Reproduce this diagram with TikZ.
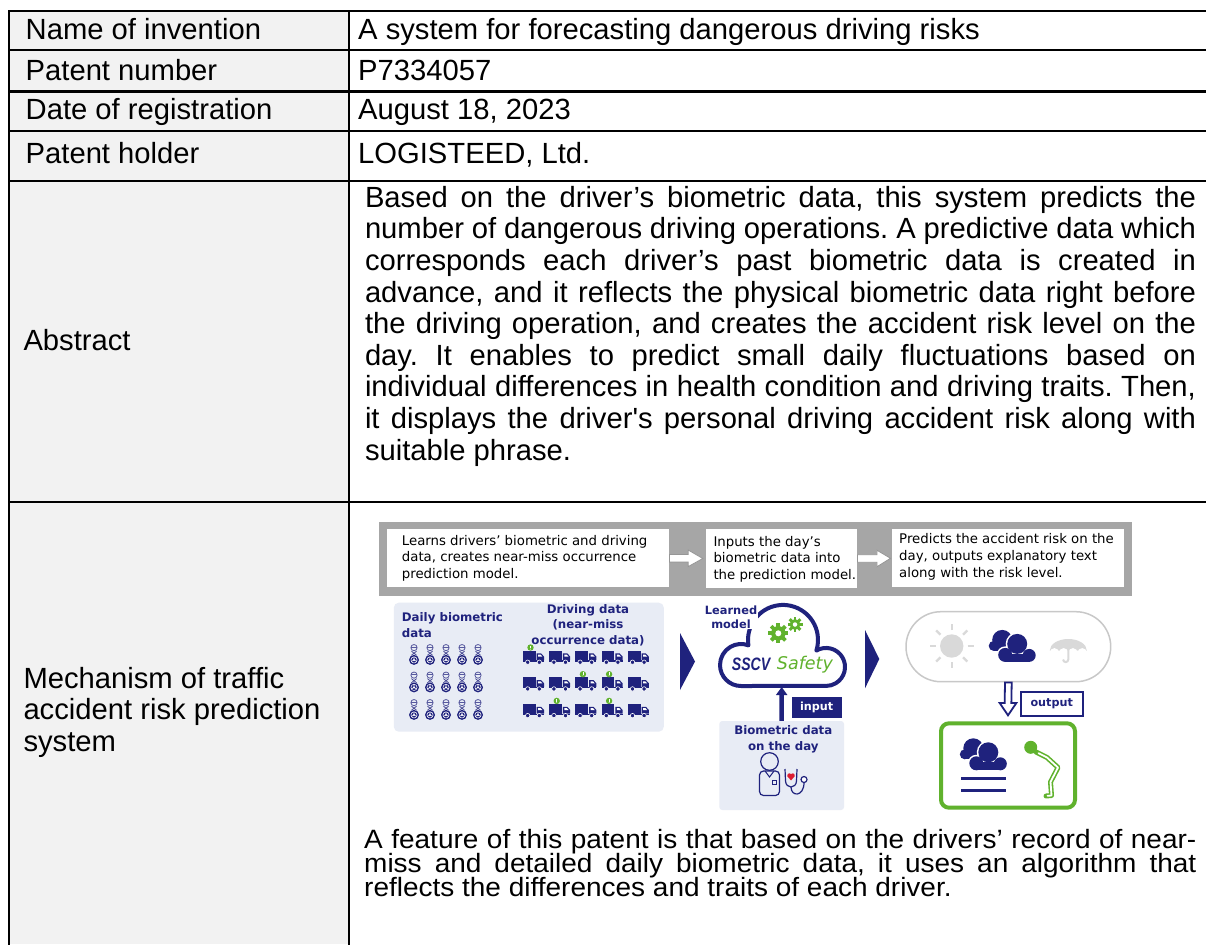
\documentclass[tikz,border=0pt]{standalone}
\usepackage{fontspec}
\setmainfont{Liberation Sans}
\newfontfamily\dvfont{DejaVu Sans}
\usetikzlibrary{calc,arrows.meta}
\definecolor{navy}{RGB}{31,34,125}
\definecolor{lgreen}{RGB}{96,178,45}
\definecolor{panelblue}{RGB}{232,236,245}
\definecolor{bannergray}{RGB}{166,166,166}
\definecolor{sungray}{RGB}{217,217,217}
\definecolor{rimgray}{RGB}{200,200,200}
\definecolor{colgray}{RGB}{242,242,242}
\definecolor{heartred}{RGB}{220,30,50}
\definecolor{arrowgray}{RGB}{150,150,150}
\tikzset{
  driverpic/.pic={
    \draw[navy!75, line width=0.8pt] (0,-6.9) circle (3.1);
    \draw[navy!75, line width=0.8pt] (-3.1,-7.6) -- (3.1,-7.6);
    \draw[navy!80, line width=0.8pt] (-2.6,-3.4) -- (2.6,0.8) (2.6,-3.4) -- (-2.6,0.8);
    \fill[navy] (0,5.4) circle (5);
    \draw[white, line width=0.55pt] (0,5.4) circle (3.1);
    \fill[white] (0,5.4) circle (1.1);
    \draw[white, line width=0.55pt] (0,5.4) -- (0,2.3) (0,5.4) -- (-2.7,7) (0,5.4) -- (2.7,7);
  },
  truckpic/.pic={
    \fill[navy] (-10.5,-6.5) rectangle (2.2,3.2);
    \fill[navy] (3.2,-3.6) -- (7.6,-3.6) -- (10.5,-0.4) -- (10.5,3.2) -- (3.2,3.2) -- cycle;
    \fill[white] (4.7,-2.3) -- (7.1,-2.3) -- (8.9,-0.3) -- (4.7,-0.3) -- cycle;
    \fill[navy] (-10.5,3.2) rectangle (10.5,4.6);
    \fill[navy] (-5.8,5.2) circle (2.2);
    \fill[navy] (5.8,5.2) circle (2.2);
    \draw[white, line width=0.6pt] (-5.8,5.2) circle (2.2) (5.8,5.2) circle (2.2);
  },
  badgepic/.pic={
    \fill[lgreen] (0,0) circle (3.2);
    \draw[white, line width=0.8pt] (0,-1.9) -- (0,0.6);
    \fill[white] (0,1.6) circle (0.45);
  },
  gearpic/.pic={
    \fill[lgreen] (0,0) circle ({0.72*#1});
    \foreach \a in {0,45,90,135} \fill[lgreen, rotate=\a] ({-0.19*#1},{-#1}) rectangle ({0.19*#1},{#1});
    \fill[white] (0,0) circle ({0.3*#1});
  },
  wcloudpic/.pic={
    \fill[navy] (-10,-6) circle (10);
    \fill[navy] (-18.5,0) circle (5);
    \fill[navy] (-18.5,-1) rectangle (-6,5);
    \draw[white, line width=3pt] (5,-2) circle (10) (-7,9) circle (7) (17,9.5) circle (6.5) (-7,8) rectangle (17,16);
    \fill[navy] (5,-2) circle (10);
    \fill[navy] (-7,9) circle (7);
    \fill[navy] (17,9.5) circle (6.5);
    \fill[navy] (-7,8) rectangle (17,16);
  },
  umbrellapic/.pic={
    \fill[sungray] (-18.5,0) arc[start angle=180, end angle=360, x radius=18.5, y radius=11.5] -- cycle;
    \fill[white] (-13.9,2.3) circle (4.7);
    \fill[white] (-4.63,2.3) circle (4.7);
    \fill[white] (4.63,2.3) circle (4.7);
    \fill[white] (13.9,2.3) circle (4.7);
    \draw[sungray, line width=2pt] (0,-2) -- (0,9) arc[start angle=0, end angle=180, radius=2.6];
  }
}
\begin{document}
\frenchspacing
\begin{tikzpicture}[x=1pt,y=-1pt,
  tline/.style={line width=2.6pt, black, line cap=rect},
  celltx/.style={anchor=base west, inner sep=0pt, font=\fontsize{29.2}{31.6}\selectfont},
  bottx/.style={anchor=base west, inner sep=0pt, text height=18pt, text depth=3pt, font=\fontsize{26.5}{23.4}\selectfont},
  bantx/.style={anchor=west, inner sep=0pt, align=left, font=\dvfont\fontsize{13.3}{16.6}\selectfont},
  navylbl/.style={inner sep=0pt, align=center, text=navy, font=\dvfont\bfseries\fontsize{11.8}{15.7}\selectfont},
  whitebox/.style={fill=white, draw=none, inner sep=0pt},
  blockarrow/.style={fill=white, draw=arrowgray, line width=0.8pt, line join=miter},
  outarrow/.style={fill=white, draw=navy, line width=1.8pt, line join=miter}]
\useasboundingbox (0,0) rectangle (1206,944);
\fill[white] (0,0) rectangle (1206,944);
\fill[colgray] (9,11) rectangle (349,944);
% table rules
\foreach \yy in {11,50,91.7,131,181,502} \draw[tline] (9,\yy) -- (1210,\yy);
\draw[tline] (9,11) -- (9,950);
\draw[tline] (349,11) -- (349,950);
% cell texts
\node[celltx] (l1) at (25.5,40) {Name of invention};
\node[celltx] (r1) at (358,40) {A system for forecasting dangerous driving risks};
\node[celltx] (l2) at (25.5,80.5) {Patent number};
\node[celltx] (r2) at (358,80.5) {P7334057};
\node[celltx] (l3) at (25.5,119.5) {Date of registration};
\node[celltx] (r3) at (358,119.5) {August 18, 2023};
\node[celltx] (l4) at (25.5,163.3) {Patent holder};
\node[celltx] (r4) at (358,163.3) {LOGISTEED, Ltd.};
\node[celltx] (l5) at (23.3,350.7) {Abstract};
\node[celltx] (ab1) at (364.8,207.3) {\makebox[831pt][s]{Based on the driver’s biometric data, this system predicts the}};
\node[celltx] (ab2) at (364.8,238.9) {\makebox[831pt][s]{number of dangerous driving operations. A predictive data which}};
\node[celltx] (ab3) at (364.8,270.5) {\makebox[831pt][s]{corresponds each driver’s past biometric data is created in}};
\node[celltx] (ab4) at (364.8,302.1) {\makebox[831pt][s]{advance, and it reflects the physical biometric data right before}};
\node[celltx] (ab5) at (364.8,333.7) {\makebox[831pt][s]{the driving operation, and creates the accident risk level on the}};
\node[celltx] (ab6) at (364.8,365.3) {\makebox[831pt][s]{day. It enables to predict small daily fluctuations based on}};
\node[celltx] (ab7) at (364.8,396.9) {\makebox[831pt][s]{individual differences in health condition and driving traits. Then,}};
\node[celltx] (ab8) at (364.8,428.5) {\makebox[831pt][s]{it displays the driver\textquotesingle s personal driving accident risk along with}};
\node[celltx] (ab9) at (364.8,460.1) {suitable phrase.};
\node[celltx] (m1) at (23.3,688.3) {Mechanism of traffic};
\node[celltx] (m2) at (23.3,719.9) {accident risk prediction};
\node[celltx] (m3) at (23.3,751.5) {system};
\node[bottx] (ft1) at (364,848.5) {\scalebox{1.056}[1]{\makebox[788pt][s]{A feature of this patent is that based on the drivers’ record of near-}}};
\node[bottx] (ft2) at (364,872.5) {\scalebox{1.056}[1]{\makebox[788pt][s]{miss and detailed daily biometric data, it uses an algorithm that}}};
\node[bottx] (ft3) at (364,896.5) {\scalebox{1.056}[1]{reflects the differences and traits of each driver.}};
% ---- diagram: banner
\fill[bannergray] (379.3,521.7) rectangle (1131.7,596);
\node[whitebox, minimum width=282pt, minimum height=58pt] (b1) at (528.3,558.3) {};
\node[whitebox, minimum width=150.7pt, minimum height=58.4pt] (b2) at (781.35,558.5) {};
\node[whitebox, minimum width=231.7pt, minimum height=58pt] (b3) at (1008.15,558.3) {};
\node[bantx] (t1) at (401.7,558.3) {Learns drivers’ biometric and driving\\data, creates near-miss occurrence\\prediction model.};
\node[bantx] (t2) at (713.3,559.2) {Inputs the day’s\\biometric data into\\the prediction model.};
\node[bantx] (t3) at (899,556.9) {Predicts the accident risk on the\\day, outputs explanatory text\\along with the risk level.};
\draw[blockarrow] ($(b1.east)+(0,-3.8)$) -- ($(b1.east)+(18.7,-3.8)$) -- ($(b1.east)+(18.7,-8.3)$) -- ($(b2.west)+(-3,0)$) -- ($(b1.east)+(18.7,8.3)$) -- ($(b1.east)+(18.7,3.8)$) -- ($(b1.east)+(0,3.8)$) -- cycle;
\draw[blockarrow] ($(b2.east)+(0.6,-3.8)$) -- ($(b2.east)+(20,-3.8)$) -- ($(b2.east)+(20,-8.3)$) -- ($(b3.west)+(-1.6,0)$) -- ($(b2.east)+(20,8.3)$) -- ($(b2.east)+(20,3.8)$) -- ($(b2.east)+(0.6,3.8)$) -- cycle;
% ---- left data panel
\node[fill=panelblue, rounded corners=5pt, minimum width=270pt, minimum height=129pt, inner sep=0pt] (lp) at (528.8,667.2) {};
\node[navylbl, anchor=west, align=left] (dbl) at (401.7,625.3) {Daily biometric\\data};
\node[navylbl] (ddl) at (588,625) {Driving data\\(near-miss\\occurrence data)};
\foreach \i in {0,...,4} \foreach \j in {0,1,2} \pic at ({414+16*\i},{654.5+27.5*\j}) {driverpic};
\foreach \i in {0,...,4} \foreach \j in {0,1,2} \pic at ({533.5+26.2*\i},{657+26.7*\j}) {truckpic};
\foreach \i/\j in {0/0,2/1,3/1,1/2,3/2} \pic at ({533.5+26.2*\i-3},{657+26.7*\j-9.5}) {badgepic};
% chevrons
\fill[navy] (680,633) -- (695,661.5) -- (680,690) -- cycle;
\fill[navy] (865,630) -- (879.3,659) -- (865,688.3) -- cycle;
% ---- learned model cloud
\draw[navy, line width=4pt, fill=white, line join=round] (741,686) arc[start angle=90, end angle=290.7, radius=21] arc[start angle=171.1, end angle=377.7, radius=35] arc[start angle=239.4, end angle=450, radius=19] -- cycle;
\coordinate (cloudbot) at (781.7,687);
\pic at (778.3,633.3) {gearpic=10};
\pic at (795,624.5) {gearpic=7.5};
\node[navylbl, fill=white, inner sep=0.6pt, font=\dvfont\bfseries\fontsize{11.4}{14.3}\selectfont] (lm) at (731,617.2) {Learned\\model};
\node[anchor=base west, inner sep=0pt, text=navy, font=\fontsize{18}{18}\selectfont\bfseries\itshape] (sscv) at (731.7,670) {\scalebox{0.78}[1]{SSCV}};
\node[anchor=base west, inner sep=0pt, text=lgreen, font=\dvfont\itshape\fontsize{17.5}{17.5}\selectfont] (safety) at (776.7,669.5) {Safety};
% ---- biometric data on the day
\node[fill=panelblue, rounded corners=3pt, minimum width=124.7pt, minimum height=89pt, inner sep=0pt] (bio) at (781.65,765.5) {};
\node[navylbl] (biol) at (783.3,739.5) {Biometric data\\on the day};
\draw[navy, line width=4.5pt, -{Triangle[width=11pt,length=8pt]}] (bio.north) -- (cloudbot);
\node[fill=navy, text=white, minimum width=50pt, minimum height=21pt, inner sep=0pt, font=\dvfont\bfseries\fontsize{11.2}{12}\selectfont] (inlbl) at (816.7,707.8) {input};
\draw[navy, line width=1.2pt] (769.5,761.5) circle (8.8);
\draw[navy, line width=1.2pt, rounded corners=4pt] (759.5,795.5) -- (759.5,771) -- (779.5,771) -- (779.5,795.5) -- cycle;
\draw[navy, line width=1pt] (765,771) -- (769.5,777) -- (774,771);
\draw[navy, line width=1pt] (772.5,780) rectangle (776.5,784);
\fill[heartred] (789.3,775.3) circle (2);
\fill[heartred] (792.7,775.3) circle (2);
\fill[heartred] (787.35,776.2) -- (791,780.5) -- (794.65,776.2) -- cycle;
\draw[navy, line width=1.2pt] (785,769) -- (785.5,781) .. controls (786,789) and (796,789) .. (796.5,781) -- (797,769);
\draw[navy, line width=1.2pt] (791,787) .. controls (791,797) and (804,797) .. (804,782.5);
\draw[navy, line width=1.2pt, fill=white] (804,779.5) circle (3);
% ---- weather panel
\node[draw=rimgray, line width=1.5pt, fill=white, rounded corners=34.9pt, minimum width=204.7pt, minimum height=70pt, inner sep=0pt] (weather) at (1008.35,646.7) {};
\coordinate (sunc) at (951.7,646);
\fill[sungray] (sunc) circle (11.7);
\foreach \a in {0,45,...,315} \draw[sungray, line width=2.4pt] ($(sunc)+(\a:16)$) -- ($(sunc)+(\a:22)$);
\pic at (1012.2,645.9) {wcloudpic};
\pic at (1068.3,650.5) {umbrellapic};
% ---- output
\node[draw=lgreen, line width=4pt, fill=white, rounded corners=8pt, minimum width=134pt, minimum height=84.4pt, inner sep=0pt] (gbox) at (1008,765.5) {};
\draw[outarrow] ($(weather.south)+(-3.35,0)$) -- ($(weather.south)+(3.35,0)$) -- ($(gbox.north)+(3.35,-18.3)$) -- ($(gbox.north)+(8.35,-18.3)$) -- ($(gbox.north)+(0,-6)$) -- ($(gbox.north)+(-8.35,-18.3)$) -- ($(gbox.north)+(-3.35,-18.3)$) -- cycle;
\node[draw=navy, line width=2pt, fill=white, text=navy, minimum width=62pt, minimum height=24pt, inner sep=0pt, font=\dvfont\bfseries\fontsize{11.2}{12}\selectfont] (outlbl) at (1051.7,703.7) {output};
\pic at (983.3,754.3) {wcloudpic};
\draw[navy, line width=3pt] (961,778.3) -- (1005.7,778.3);
\draw[navy, line width=3pt] (961,790) -- (1005.7,790);
\fill[lgreen] (1030.7,747.3) circle (6.5);
\draw[lgreen, line width=5pt, line cap=round, line join=round] (1036,752) -- (1047,757.5) -- (1058,767.5) -- (1050.5,782) -- (1051.5,795.5) -- (1046,796);
\draw[white, line width=1.8pt, line cap=round, line join=round] (1038.5,753.2) -- (1047,757.5) -- (1058,767.5) -- (1050.5,782) -- (1051.5,795.5) -- (1047.5,795.8);
\end{tikzpicture}
\end{document}
